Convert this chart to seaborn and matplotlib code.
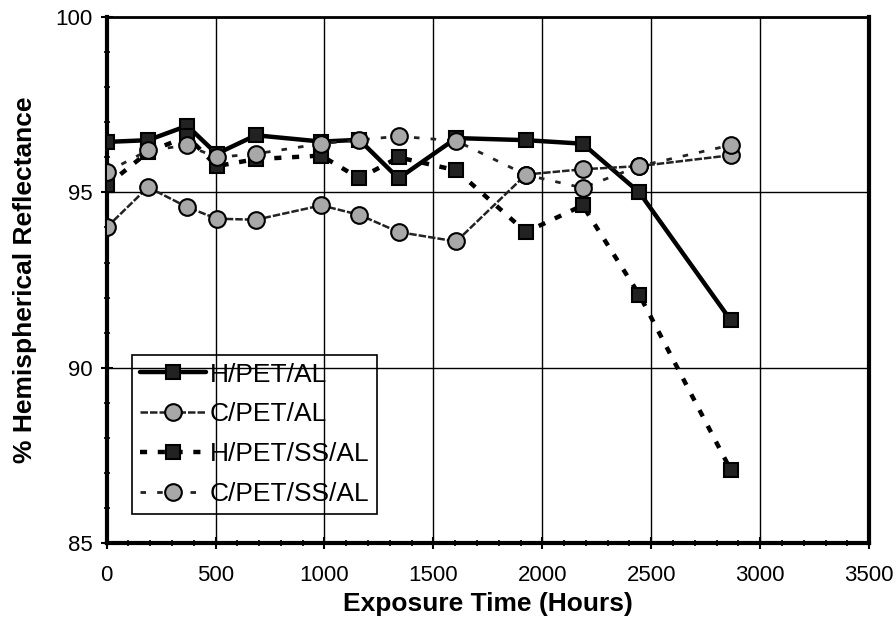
import matplotlib
matplotlib.use("Agg")
import matplotlib.pyplot as plt
import seaborn as sns
import pandas as pd
from matplotlib.ticker import MultipleLocator

# Data
hours = [0, 190, 370, 505, 685, 985, 1160, 1340, 1605, 1925, 2185, 2445, 2865]
h_pet_al = [96.44, 96.49, 96.9, 96.1, 96.63, 96.45, 96.5, 95.4, 96.55, 96.49, 96.39, 95.0, 91.35]
c_pet_al = [94.0, 95.15, 94.58, 94.25, 94.22, 94.63, 94.36, 93.87, 93.6, 95.51, 95.66, 95.75, 96.06]
h_pet_ss_al = [95.2, 96.15, 96.6, 95.75, 95.95, 96.05, 95.4, 96.0, 95.63, 93.87, 94.63, 92.08, 87.08]
c_pet_ss_al = [95.58, 96.2, 96.34, 96.0, 96.1, 96.39, 96.5, 96.6, 96.47, 95.5, 95.13, 95.75, 96.35]

series_names = ["H/PET/AL", "C/PET/AL", "H/PET/SS/AL", "C/PET/SS/AL"]
x_ticks = [0, 500, 1000, 1500, 2000, 2500, 3000, 3500]
y_ticks = [85, 90, 95, 100]

sns.set_style("white")
plt.rcParams["font.family"] = ["Liberation Sans", "DejaVu Sans"]
plt.rcParams["text.color"] = "black"
plt.rcParams["axes.labelcolor"] = "black"
plt.rcParams["xtick.color"] = "black"
plt.rcParams["ytick.color"] = "black"

fig = plt.figure(figsize=(8.96, 6.35), dpi=100)
ax = fig.add_axes([0.119, 0.145, 0.851, 0.828])

styles = {
    "H/PET/AL": dict(color="black", lw=3.2, ls="-", marker="s", ms=10,
                     mfc="#222222", mec="black"),
    "C/PET/AL": dict(color="#222222", lw=1.8, ls=(0, (3, 0.8)), marker="o", ms=12,
                     mfc="#a8a8a8", mec="black"),
    "H/PET/SS/AL": dict(color="black", lw=3.2, ls=(0, (1.6, 2.4)), marker="s", ms=10,
                        mfc="#222222", mec="black"),
    "C/PET/SS/AL": dict(color="#222222", lw=2.0, ls=(0, (2, 4)), marker="o", ms=12,
                        mfc="#a8a8a8", mec="black"),
}
values = [h_pet_al, c_pet_al, h_pet_ss_al, c_pet_ss_al]

for name, vals in zip(series_names, values):
    st = styles[name]
    df = pd.DataFrame({"x": hours, "y": vals})
    sns.lineplot(data=df, x="x", y="y", ax=ax, label=name, color=st["color"],
                 linewidth=st["lw"], linestyle=st["ls"], marker=st["marker"],
                 markersize=st["ms"], markerfacecolor=st["mfc"],
                 markeredgecolor=st["mec"], markeredgewidth=1.5, zorder=3)

ax.set_xlim(0, 3500)
ax.set_ylim(85, 100)
ax.set_xticks(x_ticks)
ax.set_yticks(y_ticks)
ax.xaxis.set_minor_locator(MultipleLocator(100))
ax.yaxis.set_minor_locator(MultipleLocator(1))
ax.tick_params(axis="both", which="major", direction="inout", length=8, width=1.5,
               labelsize=16, colors="black", bottom=True, left=True)
ax.tick_params(axis="both", which="minor", direction="inout", length=4, width=1.2,
               bottom=True, left=True)
ax.tick_params(axis="x", pad=12)
ax.tick_params(axis="y", pad=6)

ax.grid(True, which="major", color="black", linewidth=1.0)
ax.set_axisbelow(True)
for side, sp in ax.spines.items():
    sp.set_visible(True)
    sp.set_color("black")
    sp.set_linewidth(3 if side in ("left", "right", "bottom") else 2)

ax.set_xlabel("Exposure Time (Hours)", fontsize=19, fontweight="bold", labelpad=4)
ax.set_ylabel("% Hemispherical Reflectance", fontsize=19, fontweight="bold", labelpad=13)

leg = ax.legend(loc="lower left", bbox_to_anchor=(0.033, 0.055), fontsize=19,
                frameon=True, fancybox=False, framealpha=1, facecolor="none",
                edgecolor="black",
                handlelength=2.5, handletextpad=0.15, labelspacing=0.6,
                borderpad=0.3, borderaxespad=0)
frame = leg.get_frame()
frame.set_linewidth(1.2)
frame.set_facecolor("none")
frame.set_edgecolor("black")
leg.set_zorder(5)

fig.savefig("out.png", dpi=100)
